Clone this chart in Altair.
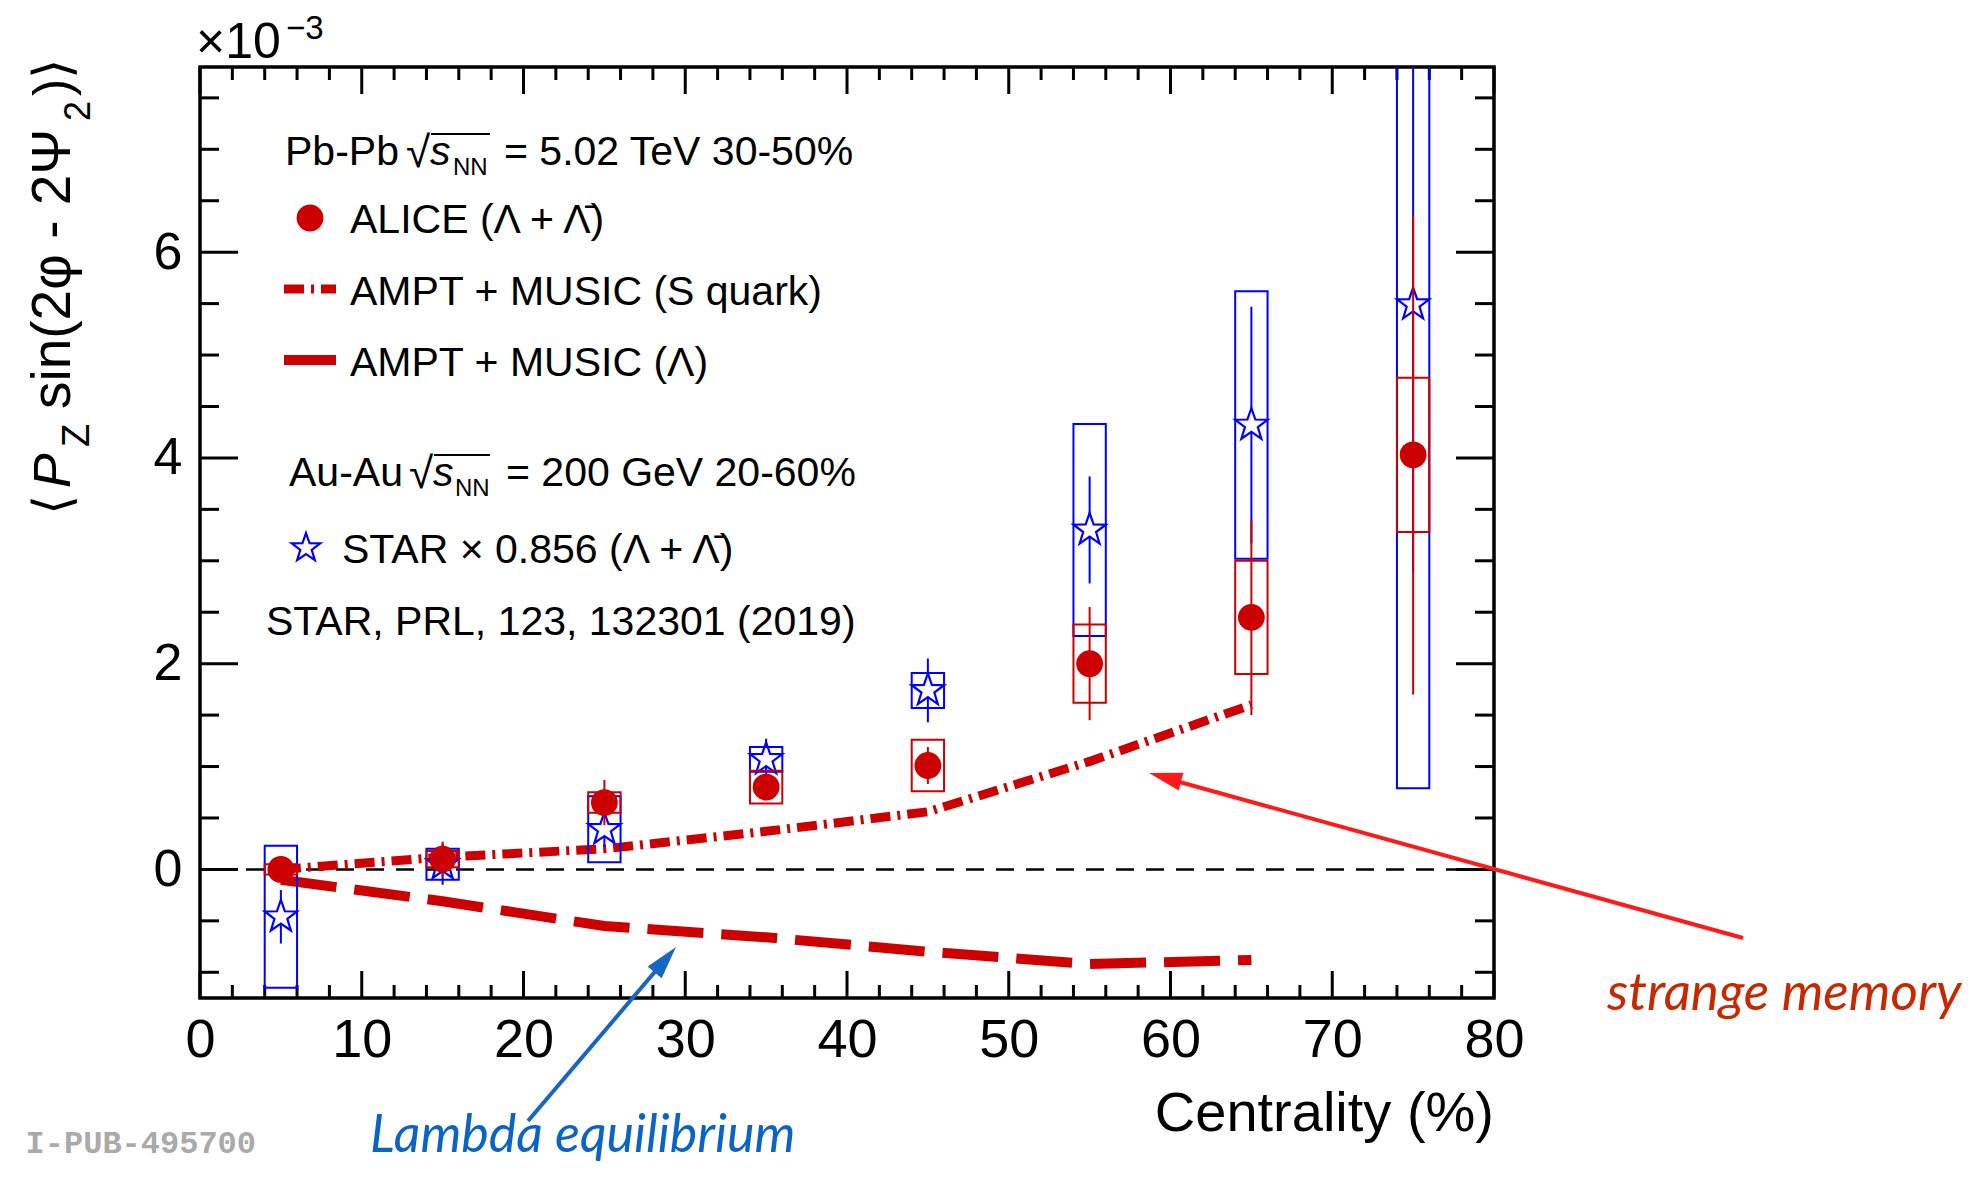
import math
import altair as alt
import pandas as pd

# ---------------- data (values in units of 1e-3) ----------------
centrality = [5, 15, 25, 35, 45, 55, 65, 75]
alice_val = [0.00, 0.10, 0.65, 0.80, 1.01, 2.00, 2.45, 4.03]
alice_stat = [0.08, 0.17, 0.22, 0.10, 0.18, 0.55, 0.95, 2.33]
alice_syst = [0.05, 0.08, 0.10, 0.16, 0.25, 0.38, 0.55, 0.75]
star_val = [-0.46, 0.05, 0.39, 1.07, 1.74, 3.30, 4.32, 5.49]
star_stat = [0.26, 0.20, 0.17, 0.20, 0.31, 0.52, 1.15, 2.60]
star_syst = [0.69, 0.15, 0.32, 0.12, 0.17, 1.03, 1.30, 4.70]
model_cent = [5, 15, 25, 35, 45, 55, 65]
model_squark = [0.00, 0.12, 0.20, 0.37, 0.56, 1.05, 1.60]
model_lambda = [-0.10, -0.31, -0.55, -0.66, -0.80, -0.92, -0.88]
bin_half = 1.0

x_major = list(range(0, 81, 10))
x_minor = [v for v in range(0, 81, 2) if v % 10 != 0]
y_major = [0, 2, 4, 6]
y_minor = [v / 2 for v in range(-2, 16) if (v / 2) not in y_major]
zero_line = [0]

# ---------------- layout ----------------
W, H = 1294, 931
FONT = "Liberation Sans"
RED = "#cc0000"
BLUE = "#0000ff"

xs = alt.Scale(domain=[0, 80], nice=False, zero=False)
ys = alt.Scale(domain=[-1.25, 7.8], nice=False, zero=False)
xax = alt.Axis(values=x_major, title=None, ticks=False, domain=False, grid=False,
               labelFontSize=54, labelFont=FONT, labelColor="black", labelPadding=15,
               labelFlush=False, labelOverlap=False)
yax = alt.Axis(values=y_major, title=None, ticks=False, domain=False, grid=False,
               labelFontSize=52, labelFont=FONT, labelColor="black", labelPadding=18,
               labelFlush=False, labelOverlap=False)


def X(f):
    return alt.X(f, type="quantitative", scale=xs, axis=xax)


def Y(f):
    return alt.Y(f, type="quantitative", scale=ys, axis=yax)


pts = pd.DataFrame({"c": centrality, "a": alice_val, "as": alice_stat, "ay": alice_syst,
                    "s": star_val, "ss": star_stat, "sy": star_syst})
pts["xl"] = pts["c"] - bin_half
pts["xh"] = pts["c"] + bin_half
pts["a_lo"] = pts["a"] - pts["as"]
pts["a_hi"] = pts["a"] + pts["as"]
pts["a_blo"] = pts["a"] - pts["ay"]
pts["a_bhi"] = pts["a"] + pts["ay"]
pts["s_lo"] = pts["s"] - pts["ss"]
pts["s_hi"] = pts["s"] + pts["ss"]
pts["s_blo"] = pts["s"] - pts["sy"]
pts["s_bhi"] = pts["s"] + pts["sy"]

models = pd.DataFrame({"c": model_cent, "sq": model_squark, "lam": model_lambda})
one = pd.DataFrame({"k": [0]})

# star symbol path
sp = []
for k in range(10):
    ang = math.radians(-90 + 36 * k)
    r = 1.0 if k % 2 == 0 else 0.40
    sp.append(f"{r * math.cos(ang):.4f},{r * math.sin(ang):.4f}")
STAR = "M" + "L".join(sp) + "Z"
HEAD = "M0,0L-0.55,2L0.55,2Z"

layers = []

# zero dashed line
layers.append(alt.Chart(pd.DataFrame({"z": zero_line})).mark_rule(
    color="black", strokeWidth=2.5, strokeDash=[18, 12]).encode(y=Y("z:Q")))


# ticks (inward, four sides)
def xticks(vals, length):
    df = pd.DataFrame({"v": vals})
    b = alt.Chart(df).mark_rule(color="black", strokeWidth=3).encode(
        x=X("v:Q"), y=alt.value(H), y2=alt.value(H - length))
    t = alt.Chart(df).mark_rule(color="black", strokeWidth=3).encode(
        x=X("v:Q"), y=alt.value(0), y2=alt.value(length))
    return [b, t]


def yticks(vals, length):
    df = pd.DataFrame({"v": vals})
    l = alt.Chart(df).mark_rule(color="black", strokeWidth=3).encode(
        y=Y("v:Q"), x=alt.value(0), x2=alt.value(length))
    r = alt.Chart(df).mark_rule(color="black", strokeWidth=3).encode(
        y=Y("v:Q"), x=alt.value(W), x2=alt.value(W - length))
    return [l, r]


layers += xticks(x_major, 27) + xticks(x_minor, 13)
layers += yticks(y_major, 38) + yticks(y_minor, 19)

# model curves
layers.append(alt.Chart(models).mark_line(color=RED, strokeWidth=9, strokeDash=[20, 7, 3, 7]).encode(
    x=X("c:Q"), y=Y("sq:Q")))
layers.append(alt.Chart(models).mark_line(color=RED, strokeWidth=10, strokeDash=[56, 18]).encode(
    x=X("c:Q"), y=Y("lam:Q")))

# STAR
base = alt.Chart(pts)
layers.append(base.mark_rule(color=BLUE, strokeWidth=2, clip=True).encode(
    x=X("c:Q"), y=Y("s_lo:Q"), y2=alt.Y2("s_hi")))
layers.append(base.mark_point(shape=STAR, size=1150, filled=True, fill="white", stroke=BLUE,
                              strokeWidth=2.2, opacity=1).encode(x=X("c:Q"), y=Y("s:Q")))
layers.append(base.mark_rect(fillOpacity=0, stroke=BLUE, strokeWidth=2, clip=True).encode(
    x=X("xl:Q"), x2=alt.X2("xh"), y=Y("s_blo:Q"), y2=alt.Y2("s_bhi")))

# ALICE
layers.append(base.mark_rect(fillOpacity=0, stroke=RED, strokeWidth=2, clip=True).encode(
    x=X("xl:Q"), x2=alt.X2("xh"), y=Y("a_blo:Q"), y2=alt.Y2("a_bhi")))
layers.append(base.mark_rule(color=RED, strokeWidth=2, clip=True).encode(
    x=X("c:Q"), y=Y("a_lo:Q"), y2=alt.Y2("a_hi")))
layers.append(base.mark_point(shape="circle", size=720, filled=True, color=RED, opacity=1).encode(
    x=X("c:Q"), y=Y("a:Q")))


# ---------------- annotations / legend ----------------
def txt(s, x, y, size=41, color="black", style="normal", font=FONT, align="left", angle=0,
        weight="normal"):
    kw = dict(text=s, align=align, baseline="alphabetic", font=font, fontSize=size,
              color=color, fontStyle=style, fontWeight=weight)
    if angle:
        kw["angle"] = angle
    return alt.Chart(one).mark_text(**kw).encode(x=alt.value(x), y=alt.value(y))


def hline(x1, x2, y, color="black", width=2, dash=None):
    kw = dict(color=color, strokeWidth=width)
    if dash:
        kw["strokeDash"] = dash
    return alt.Chart(one).mark_rule(**kw).encode(x=alt.value(x1), x2=alt.value(x2), y=alt.value(y))


def seg(x1, y1, x2, y2, color, width):
    return alt.Chart(one).mark_rule(color=color, strokeWidth=width).encode(
        x=alt.value(x1), x2=alt.value(x2), y=alt.value(y1), y2=alt.value(y2))


def head(x, y, angle, color, size=1100):
    return alt.Chart(one).mark_point(shape=HEAD, size=size, filled=True, color=color, opacity=1,
                                     angle=angle).encode(x=alt.value(x), y=alt.value(y))


# x10^-3
layers.append(txt("×10", -4, -9, size=50))
layers.append(txt("−3", 86, -28, size=33))

# y title (rotated)
layers.append(txt("⟨", -130, 448, size=52, angle=270))
layers.append(txt("P", -130, 421, size=52, style="italic", angle=270))
layers.append(txt("Z", -111, 380, size=38, angle=270))
layers.append(txt("sin(2φ - 2Ψ", -130, 342, size=55, angle=270))
layers.append(txt("2", -110, 54, size=36, angle=270))
layers.append(txt(")⟩", -130, 29, size=52, angle=270))

# x title
layers.append(txt("Centrality (%)", W, 1064, size=56, align="right"))

# legend block
# line 1
layers.append(txt("Pb-Pb", 85, 98))
layers.append(txt("√", 206, 100, size=44))
layers.append(hline(231, 290, 67, width=2))
layers.append(txt("s", 230, 98, style="italic"))
layers.append(txt("NN", 253, 108, size=24))
layers.append(txt("= 5.02 TeV 30-50%", 304, 98))
# ALICE
layers.append(alt.Chart(one).mark_point(shape="circle", size=720, filled=True, color=RED, opacity=1)
              .encode(x=alt.value(110), y=alt.value(151)))
layers.append(txt("ALICE (Λ + Λ̄)", 150, 166))
# S quark
layers.append(hline(84, 136, 222, color=RED, width=9, dash=[20, 7, 3, 7]))
layers.append(txt("AMPT + MUSIC (S quark)", 150, 238))
# Lambda
layers.append(hline(84, 136, 293, color=RED, width=10))
layers.append(txt("AMPT + MUSIC (Λ)", 150, 309))
# Au-Au
layers.append(txt("Au-Au", 89, 419))
layers.append(txt("√", 209, 421, size=44))
layers.append(hline(234, 290, 388, width=2))
layers.append(txt("s", 233, 419, style="italic"))
layers.append(txt("NN", 255, 429, size=24))
layers.append(txt("= 200 GeV 20-60%", 306, 419))
# STAR
layers.append(alt.Chart(one).mark_point(shape=STAR, size=900, filled=False, color=BLUE, strokeWidth=2.2,
                                        opacity=1).encode(x=alt.value(106), y=alt.value(481)))
layers.append(txt("STAR × 0.856 (Λ + Λ̄)", 142, 496))
layers.append(txt("STAR, PRL, 123, 132301 (2019)", 66, 568))

# hand-drawn style arrows and labels
layers.append(seg(328, 1054, 470, 887, "#1766c4", 4))
layers.append(head(476, 880, 40, "#1766c4"))
layers.append(seg(1543, 871, 958, 709, "#ff1a1a", 4))
layers.append(head(949, 706, 285, "#ff1a1a"))
layers.append(txt("strange memory", 1407, 943, size=53, color="#c82800", style="italic", font="Lato"))
layers.append(txt("Lambda equilibrium", 170, 1085, size=52, color="#0a64c8", style="italic", font="Lato"))
layers.append(txt("I-PUB-495700", 56, 1086, size=32, color="#aaaaaa", font="Liberation Mono",
                  align="right", weight="bold"))

chart = alt.layer(*layers).properties(
    width=W, height=H,
    autosize=alt.AutoSizeParams(type="none"),
    padding={"left": 192, "top": 59, "right": 470, "bottom": 166},
    background="white",
).configure_view(stroke="black", strokeWidth=3.5)

chart.save("out.html", embed_options={"renderer": "svg", "actions": False})
